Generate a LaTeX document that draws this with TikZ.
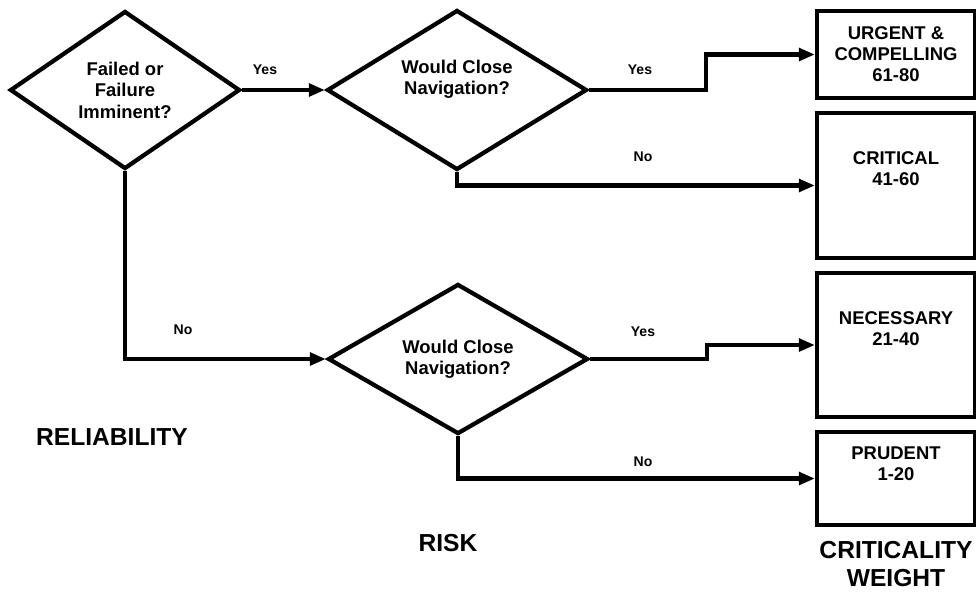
\documentclass[tikz,border=0pt]{standalone}
\usepackage{fontspec}
\setmainfont{Liberation Sans}
\usepackage{tikz}
\usetikzlibrary{arrows.meta, shapes.geometric}

\begin{document}
\begin{tikzpicture}[->,>={Triangle[length=0.32cm,width=0.25cm]},x=0.02cm,y=-0.02cm,line width=0.085cm,font=\bfseries]
                \tikzset{decision/.style={diamond, draw, inner sep=0pt, align=center, font=\fontsize{10.5}{12.2}\selectfont\bfseries}}
                \tikzset{weight/.style={rectangle, draw, inner sep=0pt, minimum width=3.16cm, align=center, font=\fontsize{10.5}{12}\selectfont\bfseries}}
                \tikzset{weighttext/.style={align=center, font=\fontsize{10.5}{12}\selectfont\bfseries}}
                \tikzset{answer/.style={font=\fontsize{8}{9}\selectfont\bfseries}}
                \tikzset{heading/.style={align=center, font=\fontsize{14}{15.5}\selectfont\bfseries}}

                \useasboundingbox (0,0) rectangle (976,593);

                \node[decision, minimum width=4.6cm, minimum height=3.16cm] (Q1) at (125,90) {Failed or\\Failure\\Imminent?};
                \node[decision, minimum width=5.2cm, minimum height=3.2cm,
                      label={[weighttext, yshift=6.3pt]center:{Would Close\\Navigation?}}] (Q2) at (457,90) {};
                \node[decision, minimum width=5.2cm, minimum height=2.3cm] (Q3) at (458,359) {Would Close\\Navigation?};

                \node[weight, minimum height=1.74cm] (W1) at (896,54.5) {URGENT \&\\COMPELLING\\61-80};
                \node[weight, minimum height=2.9cm,
                      label={[weighttext, yshift=9.4pt]center:{CRITICAL\\41-60}}] (W2) at (896,185.5) {};
                \node[weight, minimum height=2.88cm,
                      label={[weighttext, yshift=9.4pt]center:{NECESSARY\\21-40}}] (W3) at (896,345) {};
                \node[weight, minimum height=1.86cm,
                      label={[weighttext, yshift=8.5pt]center:{PRUDENT\\1-20}}] (W4) at (896,478.5) {};

                \node[answer] (yes1) at (265,70) {Yes};
                \node[answer] (no1) at (183,330) {No};
                \node[answer] (yes2) at (640,70) {Yes};
                \node[answer] (no2) at (643,157) {No};
                \node[answer] (yes3) at (643,332) {Yes};
                \node[answer] (no3) at (643,462) {No};

                \node[heading] (reliability) at (112,437) {RELIABILITY};
                \node[heading] (risk) at (448,543) {RISK};
                \node[heading] (criticality) at (896,564) {CRITICALITY\\WEIGHT};

                \path (Q1) edge (Q2);
                \draw (Q1) |- (Q3);
                \draw (Q2.east) -- ++(117,0) |- (W1);
                \draw (Q2) |- (W2);
                \draw (Q3.east) -- ++(117,0) |- (W3);
                \draw (Q3) |- (W4);
            \end{tikzpicture}
\end{document}
